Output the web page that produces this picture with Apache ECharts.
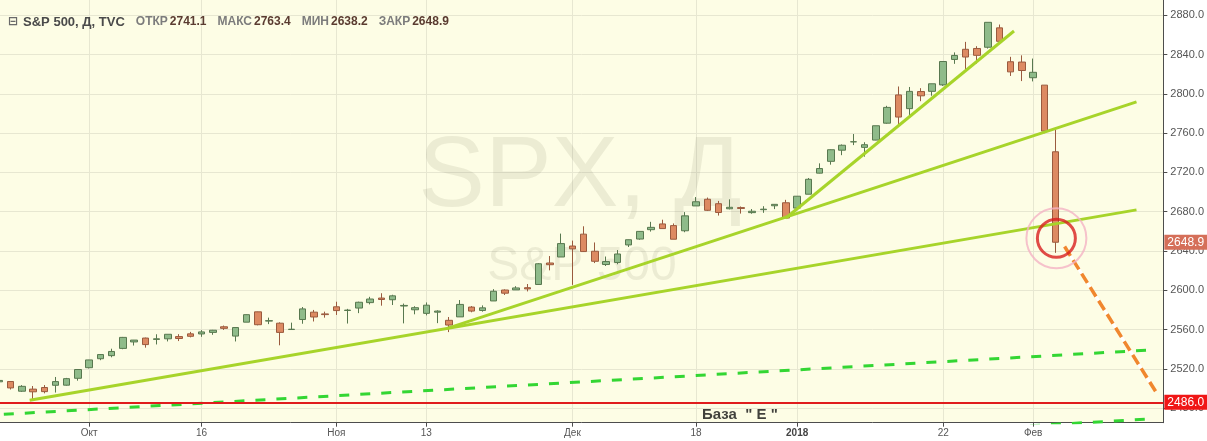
<!DOCTYPE html>
<html><head><meta charset="utf-8">
<script src="https://cdn.jsdelivr.net/npm/echarts@6/dist/echarts.min.js"></script>
<style>html,body{margin:0;padding:0;background:#fff}#c{width:1207px;height:441px}</style>
</head><body><div id="c"></div>
<script>
// Trading days (index 0 = 2017-09-20)
const dates = ['2017-09-20','2017-09-21','2017-09-22','2017-09-25','2017-09-26','2017-09-27','2017-09-28','2017-09-29',
'2017-10-02','2017-10-03','2017-10-04','2017-10-05','2017-10-06','2017-10-09','2017-10-10','2017-10-11','2017-10-12','2017-10-13',
'2017-10-16','2017-10-17','2017-10-18','2017-10-19','2017-10-20','2017-10-23','2017-10-24','2017-10-25','2017-10-26','2017-10-27',
'2017-10-30','2017-10-31','2017-11-01','2017-11-02','2017-11-03','2017-11-06','2017-11-07','2017-11-08','2017-11-09','2017-11-10',
'2017-11-13','2017-11-14','2017-11-15','2017-11-16','2017-11-17','2017-11-20','2017-11-21','2017-11-22','2017-11-24','2017-11-27',
'2017-11-28','2017-11-29','2017-11-30','2017-12-01','2017-12-04','2017-12-05','2017-12-06','2017-12-07','2017-12-08','2017-12-11',
'2017-12-12','2017-12-13','2017-12-14','2017-12-15','2017-12-18','2017-12-19','2017-12-20','2017-12-21','2017-12-22','2017-12-26',
'2017-12-27','2017-12-28','2017-12-29','2018-01-02','2018-01-03','2018-01-04','2018-01-05','2018-01-08','2018-01-09','2018-01-10',
'2018-01-11','2018-01-12','2018-01-16','2018-01-17','2018-01-18','2018-01-19','2018-01-22','2018-01-23','2018-01-24','2018-01-25',
'2018-01-26','2018-01-29','2018-01-30','2018-01-31','2018-02-01','2018-02-02','2018-02-05'];
const opens = [2506.84,2507.16,2497.26,2499.39,2501.04,2503.30,2503.41,2510.42,
2521.20,2530.34,2533.48,2540.86,2547.44,2551.39,2549.99,2550.62,2552.88,2555.66,
2555.57,2557.17,2562.87,2553.39,2567.56,2578.08,2568.66,2566.52,2560.08,2570.26,
2577.75,2575.99,2583.21,2579.46,2581.93,2587.47,2592.11,2590.39,2584.00,2580.18,
2576.53,2577.75,2569.45,2572.95,2582.94,2579.49,2589.17,2600.31,2600.42,2602.66,
2605.94,2627.82,2633.93,2645.10,2657.19,2639.78,2626.24,2628.38,2646.21,2652.19,
2661.73,2667.59,2665.87,2660.63,2685.92,2692.71,2688.18,2683.02,2684.22,2679.09,
2682.10,2686.10,2689.15,2683.73,2697.85,2719.31,2731.33,2742.67,2751.15,2745.55,
2752.97,2770.18,2798.96,2784.99,2802.40,2802.60,2809.16,2835.05,2845.42,2846.24,
2847.48,2867.23,2832.74,2832.41,2816.45,2808.92,2741.06];
const highs = [2508.85,2507.16,2503.47,2502.54,2503.51,2511.75,2510.81,2519.44,
2529.23,2535.13,2540.53,2552.51,2549.41,2551.82,2555.23,2555.24,2555.33,2557.65,
2559.47,2559.71,2564.11,2562.36,2575.44,2578.29,2572.18,2567.40,2567.07,2582.98,
2580.03,2578.29,2588.40,2581.11,2588.42,2593.38,2597.02,2595.47,2586.50,2583.81,
2587.66,2579.66,2572.84,2590.09,2583.96,2584.64,2601.19,2600.94,2604.21,2606.41,
2627.69,2634.89,2657.74,2650.62,2665.19,2648.72,2634.41,2640.99,2651.65,2660.33,
2669.72,2671.88,2668.09,2679.63,2694.97,2694.44,2691.01,2692.64,2685.35,2682.74,
2685.64,2687.66,2692.12,2695.89,2714.37,2729.29,2743.45,2748.51,2759.14,2750.80,
2767.56,2787.85,2807.54,2807.04,2805.83,2810.33,2833.03,2842.24,2852.97,2848.56,
2872.87,2870.62,2837.75,2839.26,2835.96,2808.92,2763.39];
const lows = [2496.67,2499.00,2496.54,2488.03,2495.12,2495.91,2502.93,2507.99,
2520.40,2528.85,2531.80,2540.02,2543.79,2541.60,2544.86,2547.95,2548.31,2552.09,
2552.64,2554.69,2559.67,2547.92,2567.56,2564.33,2565.58,2544.00,2559.80,2565.94,
2568.25,2572.15,2574.92,2566.17,2576.77,2585.66,2584.35,2585.02,2566.33,2575.57,
2574.48,2566.56,2557.45,2572.95,2577.62,2578.24,2589.17,2595.23,2600.42,2598.87,
2605.44,2620.32,2633.93,2605.52,2639.03,2627.73,2624.75,2626.53,2644.10,2651.47,
2659.78,2662.85,2652.01,2659.14,2685.92,2680.74,2676.11,2682.40,2678.13,2677.96,
2678.91,2682.69,2673.61,2682.36,2697.77,2719.07,2727.92,2737.60,2747.86,2736.06,
2752.78,2769.64,2768.64,2778.38,2792.56,2798.08,2808.12,2830.59,2824.81,2830.94,
2846.18,2851.48,2818.27,2813.04,2812.70,2759.97,2638.17];
const closes = [2508.24,2500.60,2502.22,2496.66,2496.84,2507.04,2510.06,2519.36,
2529.12,2534.58,2537.74,2552.07,2549.33,2544.73,2550.64,2555.24,2550.93,2553.17,
2557.64,2559.36,2561.26,2562.10,2575.21,2564.98,2569.13,2557.15,2560.40,2581.07,
2572.83,2575.26,2579.36,2579.85,2587.84,2591.13,2590.64,2594.38,2584.62,2582.30,
2584.84,2578.87,2564.62,2585.64,2578.85,2582.14,2599.03,2597.08,2602.42,2601.42,
2627.04,2626.07,2647.58,2642.22,2639.44,2629.57,2629.27,2636.98,2651.50,2659.99,
2664.11,2662.85,2652.01,2675.81,2690.16,2681.47,2679.25,2684.57,2683.34,2680.50,
2682.62,2687.54,2673.61,2695.81,2713.06,2723.99,2743.15,2747.71,2751.29,2748.23,
2767.56,2786.24,2776.42,2802.56,2798.03,2810.30,2832.97,2839.13,2837.54,2839.25,
2872.87,2853.53,2822.43,2823.81,2821.98,2762.13,2648.94];

// Axis ticks
const tickIdx = [8, 18, 30, 38, 51, 62, 71, 84, 92];
const tickLabels = ['Окт', '16', 'Ноя', '13', 'Дек', '18', '2018', '22', 'Фев'];
const priceTicks = [2480, 2520, 2560, 2600, 2640, 2680, 2720, 2760, 2800, 2840, 2880];

// Drawings: [bar index, price]
const trendA = [[2.7, 2488.0], [101.2, 2681.9]];
const trendB = [[39.8, 2561.0], [101.2, 2791.8]];
const trendC = [[70.0, 2673.6], [90.3, 2864.0]];
const channelUpper = [[0.4, 2473.7], [102.9, 2539.5]];
const channelLower = [[60.0, 2441.6], [102.9, 2469.3]];
const targetArrow = [[94.8, 2644.6], [102.9, 2497.1]];
const circleCenter = [[94.07, 2652.9]];
const baseLevel = 2486.0;
const baseLabelPos = [[65.9, 2473.4]];
const baseLabelText = 'База  " Е "';

const last = dates.length - 1;
const lastClose = closes[last];
const candles = dates.map((d, i) => [i, opens[i], closes[i], lows[i], highs[i]]);

const chart = echarts.init(document.getElementById('c'), null, {renderer: 'canvas'});
const FONT = '"Liberation Sans", Arial, sans-serif';
const trendStyle = {color: '#a7d42a', width: 3};

chart.setOption({
  animation: false,
  backgroundColor: '#ffffff',
  textStyle: {fontFamily: FONT},
  title: [{
    text: '{i|⊟} {t|S&P 500, Д, TVC}{l|ОТКР}{v|' + opens[last].toFixed(1) + '}{l|МАКС}{v|' + highs[last].toFixed(1) +
          '}{l|МИН}{v|' + lows[last].toFixed(1) + '}{l|ЗАКР}{v|' + closes[last].toFixed(1) + '}',
    left: 3, top: 8,
    textStyle: {
      rich: {
        i: {fontFamily: '"DejaVu Sans"', fontSize: 12, color: '#6a6a6a'},
        t: {fontFamily: FONT, fontSize: 13, fontWeight: 'bold', color: '#4a4a4a'},
        l: {fontFamily: FONT, fontSize: 12, color: '#7c7c7c', padding: [0, 2, 0, 11]},
        v: {fontFamily: FONT, fontSize: 12, color: '#5a3b30'}
      }
    }
  }],
  graphic: [
    {type: 'text', x: 580, y: 178, z: 1, silent: true,
     style: {text: 'SPX, Д', font: '100px ' + FONT, fill: 'rgba(90,90,60,0.10)', textAlign: 'center', textVerticalAlign: 'middle'}},
    {type: 'text', x: 582, y: 267, z: 1, silent: true,
     style: {text: 'S&P 500', font: '48px ' + FONT, fill: 'rgba(90,90,60,0.10)', textAlign: 'center', textVerticalAlign: 'middle'}}
  ],
  grid: {left: 0, top: 0, right: 42.7, bottom: 18.3, show: true, backgroundColor: '#fdfde5', borderWidth: 0},
  xAxis: {
    type: 'value', min: 0.06, max: 103.59,
    axisLine: {show: true, onZero: false, lineStyle: {color: '#4d4d4d'}},
    axisTick: {show: true, customValues: tickIdx, length: 4, lineStyle: {color: '#4d4d4d'}},
    axisLabel: {
      customValues: tickIdx, margin: 6, fontSize: 10, color: '#555',
      formatter: v => { const t = tickLabels[tickIdx.indexOf(Math.round(v))]; return t === '2018' ? '{b|2018}' : t; },
      rich: {b: {fontWeight: 'bold', fontSize: 10, color: '#444'}}
    },
    splitLine: {show: true, lineStyle: {color: '#e7e7d1'}}
  },
  yAxis: {
    type: 'value', position: 'right', min: 2465.2, max: 2895.6,
    axisLine: {show: true, lineStyle: {color: '#4d4d4d'}},
    axisTick: {show: true, customValues: priceTicks, length: 4, lineStyle: {color: '#4d4d4d'}},
    axisLabel: {customValues: priceTicks, formatter: v => v.toFixed(1), fontSize: 11, color: '#555', margin: 7},
    splitLine: {show: true, lineStyle: {color: '#e7e7d1'}}
  },
  series: [
    {
      type: 'candlestick', data: candles, encode: {x: 0, y: [1, 2, 3, 4]}, barWidth: 7, z: 3,
      itemStyle: {color: '#8fbb8a', color0: '#dd8a62', borderColor: '#58784f', borderColor0: '#9a5a3e', borderWidth: 1},
      markLine: {
        symbol: ['none', 'none'], silent: true, animation: false,
        data: [
          {yAxis: baseLevel, lineStyle: {color: '#e01c1c', width: 2, type: 'solid'},
           label: {show: true, position: 'end', distance: 1, formatter: baseLevel.toFixed(1), backgroundColor: '#f01616', color: '#fff', fontSize: 12, padding: [2, 4, 1, 3]}},
          {yAxis: lastClose, lineStyle: {color: 'rgba(0,0,0,0)', width: 1, type: 'solid'},
           label: {show: true, position: 'end', distance: 1, formatter: lastClose.toFixed(1), backgroundColor: '#d56f59', color: '#fff', fontSize: 12, padding: [2, 4, 1, 3]}}
        ]
      }
    },
    {type: 'line', data: trendA, symbol: 'none', lineStyle: trendStyle, z: 4},
    {type: 'line', data: trendB, symbol: 'none', lineStyle: trendStyle, z: 4},
    {type: 'line', data: trendC, symbol: 'none', lineStyle: trendStyle, z: 4},
    {type: 'line', data: channelUpper, symbol: 'none', z: 4, lineStyle: {color: '#33d633', width: 3, type: [10, 11]}},
    {type: 'line', data: channelLower, symbol: 'none', z: 4, clip: true, lineStyle: {color: '#33d633', width: 3, type: [10, 11]}},
    {type: 'line', data: targetArrow, symbol: 'none', z: 4, lineStyle: {color: '#ffffff', width: 3}},
    {type: 'line', data: targetArrow, symbol: 'none', z: 5, lineStyle: {color: '#f0872e', width: 3.5, type: [11, 5]}},
    {type: 'scatter', data: circleCenter, symbol: 'circle', symbolSize: 60, z: 6,
     itemStyle: {color: 'rgba(0,0,0,0)', borderColor: '#f4b3c4', borderWidth: 2}},
    {type: 'scatter', data: circleCenter, symbol: 'circle', symbolSize: 38, z: 6,
     itemStyle: {color: 'rgba(0,0,0,0)', borderColor: '#d81e1e', borderWidth: 3}},
    {type: 'scatter', data: baseLabelPos, symbolSize: 0, z: 6,
     label: {show: true, position: 'inside', formatter: baseLabelText, fontFamily: FONT, fontSize: 15, fontWeight: 'bold', color: '#111'}}
  ]
});
</script></body></html>
